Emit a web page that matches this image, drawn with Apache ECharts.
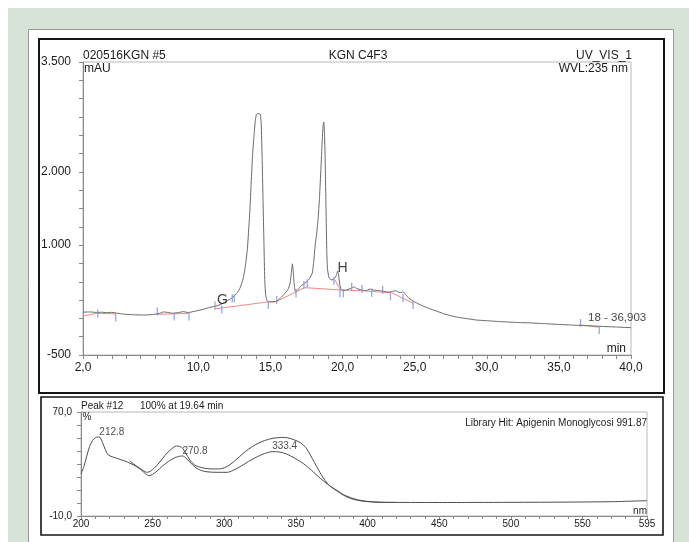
<!DOCTYPE html>
<html><head><meta charset="utf-8">
<script src="https://cdn.jsdelivr.net/npm/echarts@6/dist/echarts.min.js"></script>
<style>html,body{margin:0;padding:0;background:#fff}#c{width:689px;height:542px}</style>
</head><body><div id="c"></div>
<script>
// ---- Chromatogram (time min, mAU) ----
const chromatogram = [[2.0,85],[2.5,88],[2.95,80],[3.3,84],[3.6,78],[4.0,82],[4.4,70],[4.8,58],[5.5,50],[6.2,46],[6.8,52],[7.3,68],[7.6,88],[7.9,80],[8.2,70],[8.6,78],[8.95,92],[9.3,80],[9.7,95],[10.3,122],[10.8,150],[11.3,172],[11.7,205],[12.0,240],[12.3,275],[12.5,310],[12.7,350],[12.9,420],[13.1,540],[13.25,700],[13.4,950],[13.55,1400],[13.65,1800],[13.75,2200],[13.85,2480],[13.95,2700],[14.02,2785],[14.1,2795],[14.2,2795],[14.3,2785],[14.36,2650],[14.42,2200],[14.48,1650],[14.55,1000],[14.6,550],[14.66,330],[14.75,245],[14.9,228],[15.1,225],[15.4,232],[15.7,280],[15.95,330],[16.2,390],[16.35,470],[16.45,620],[16.52,745],[16.58,640],[16.64,480],[16.72,370],[16.85,380],[17.05,430],[17.3,470],[17.5,500],[17.7,540],[17.9,620],[18.0,780],[18.1,1000],[18.2,1150],[18.3,1350],[18.4,1650],[18.5,2050],[18.58,2400],[18.65,2640],[18.7,2680],[18.75,2500],[18.8,2100],[18.85,1500],[18.9,950],[18.95,680],[19.05,560],[19.2,525],[19.35,530],[19.5,560],[19.6,610],[19.66,645],[19.72,600],[19.8,470],[19.9,395],[20.05,378],[20.3,390],[20.6,412],[20.8,430],[21.0,405],[21.3,390],[21.6,378],[21.9,400],[22.2,385],[22.5,380],[22.8,372],[23.1,360],[23.4,365],[23.7,378],[23.95,352],[24.2,360],[24.4,320],[24.6,274],[25.0,225],[25.5,175],[26.0,135],[26.5,100],[27.0,65],[27.5,36],[28.0,15],[28.5,0],[29.25,-22],[30.0,-32],[31.0,-45],[32.0,-55],[33.0,-62],[34.0,-72],[35.0,-83],[36.0,-92],[37.0,-100],[38.0,-110],[39.0,-118],[40.0,-127]];
const baselines = [[2.0,32],[2.95,69],[4.3,62],[4.35,null],[7.1,55],[8.35,62],[9.3,68],[9.4,null],[11.15,130],[14.85,225],[15.43,232],[16.8,364],[17.35,420],[19.9,387],[21.3,378],[23.4,350],[24.9,206],[25.0,null],[19.45,530],[19.85,395],[20.0,null],[36.4,-88],[37.75,-120]];
const peakMarks = [[3.02,67],[4.27,12],[7.15,94],[8.33,26],[9.35,26],[11.15,176],[11.62,121],[12.35,274],[12.49,274],[14.85,183],[15.43,251],[16.77,342],[17.32,456],[17.55,479],[19.4,513],[19.82,342],[20.05,342],[20.63,433],[21.35,400],[22.02,350],[22.78,387],[23.32,300],[24.19,278],[24.89,183],[36.5,-63],[37.8,-159]];
const peakNames = ['G','H','18 - 36,903'];
const peakNamePos = [[11.67,251],[20.0,688],[37.02,5]];
const timeTickLabels = [2,10,15,20,25,30,35,40];
const mauTickLabels = [3500,2000,1000,-500];

// ---- UV spectra (nm, %) ----
const spectrumPeak = [[200,22.5],[202,28],[204,36],[206,43.5],[208,48],[210,50.2],[212,50.8],[213.5,50.2],[215,46.5],[217,41],[219,37],[222,35.5],[226,34],[230,32.5],[235,30.2],[239,27.8],[242,25.5],[245,22.5],[247.5,21],[250,22],[253,24.5],[257,28.5],[261,32],[265,34.5],[268,35.8],[270.8,36.2],[273,34.8],[276,31.5],[280,27.2],[284,25],[288,24],[295,23.6],[302,23.6],[306,25],[311,27.9],[317,32],[323,35.6],[328,38],[333.4,39.5],[338,39.3],[343.5,37.7],[349,34.5],[355,30.5],[361,25],[367,19],[372,14.5],[376,11.3],[381,7.5],[386,4.4],[391,2.6],[396,1.5],[402,0.9],[410,0.5],[450,0.4],[500,0.5],[540,0.7],[570,1.0],[595,1.8]];
const spectrumLibrary = [[234,32.3],[238,29],[241,26.7],[244,24.5],[246,23.6],[248.5,24.5],[251,26.7],[255,31.5],[258.5,36.5],[262,40.5],[266.6,43.8],[269,43.5],[271,42],[273,38.5],[276,33.1],[279,29.5],[282,27.9],[286,26.8],[291,26.2],[296,26.2],[300,27],[304,29.5],[308,33.1],[313,38],[317,41.5],[322,45],[328,48],[334,49.8],[340,50.4],[344,50.2],[349,48.5],[353,46.5],[357,42.5],[360,37],[363,31],[366,25],[369,19.5],[372,15],[375,12],[379,9.5],[383,6.5],[388,4.2],[393,2.5],[398,1.5],[405,0.8],[412,0.5],[420,0.45]];
const spectrumPeakLabels = [[212.8,50.8],[270.8,36.2],[333.4,39.5]];
const nmTickLabels = [200,250,300,350,400,450,500,550,595];
const pctTickLabels = [70,-10];

const FF = '"Liberation Sans", Arial, sans-serif';
const TXT = '#1c1c1c';
function txt(text, x, y, size, align) {
  return {type:'text', z:20, style:{text:text, x:x, y:y, fill:TXT, font: size+'px '+FF,
    align:align, textAlign:align, verticalAlign:'middle', textVerticalAlign:'middle'}};
}

const chart = echarts.init(document.getElementById('c'), null, {renderer:'canvas'});
chart.setOption({
  animation:false,
  backgroundColor:'#ffffff',
  graphic:[
    {type:'rect', z:-10, shape:{x:8,y:8,width:700,height:560}, style:{fill:'#d6e4d8'}},
    {type:'rect', z:-9, shape:{x:28.5,y:29.5,width:645,height:530}, style:{fill:'#ffffff', stroke:'#9a9a9a', lineWidth:1}},
    {type:'rect', z:-8, shape:{x:39,y:39,width:625,height:354}, style:{fill:'none', stroke:'#161616', lineWidth:2}},
    {type:'rect', z:-8, shape:{x:41,y:397,width:622,height:138}, style:{fill:'none', stroke:'#161616', lineWidth:1.6}},
    txt('020516KGN #5', 83, 56, 12, 'left'),
    txt('KGN C4F3', 358, 56, 12, 'center'),
    txt('UV_VIS_1', 632, 56, 12, 'right'),
    txt('mAU', 84, 68.5, 12, 'left'),
    txt('WVL:235 nm', 628, 68.5, 12, 'right'),
    txt('min', 626, 349, 12, 'right'),
    txt('Peak #12', 81, 406, 10, 'left'),
    txt('100% at 19.64 min', 140, 406, 10, 'left'),
    txt('%', 82.5, 417, 10, 'left'),
    txt('Library Hit: Apigenin Monoglycosi 991.87', 647, 423, 10, 'right'),
    txt('nm', 647, 511, 10, 'right')
  ],
  grid:[
    {left:83, top:62, width:548, height:293, show:true, borderColor:'#b8b8b8', borderWidth:1},
    {left:81, top:412, width:566, height:104, show:true, borderColor:'#b8b8b8', borderWidth:1}
  ],
  xAxis:[
    {type:'value', gridIndex:0, min:2, max:40, interval:1,
     axisLine:{show:true, onZero:false, lineStyle:{color:'#8a8a8a', width:1}},
     axisTick:{show:true, length:4, lineStyle:{color:'#8a8a8a'}},
     splitLine:{show:false},
     axisLabel:{margin:7, fontSize:12, fontFamily:FF, color:TXT, showMinLabel:true, showMaxLabel:true,
       formatter:v => timeTickLabels.includes(v) ? v.toFixed(1).replace('.', ',') : ''}},
    {type:'value', gridIndex:1, min:200, max:595, interval:10,
     axisLine:{show:true, onZero:false, lineStyle:{color:'#8a8a8a', width:1}},
     axisTick:{show:true, length:3, lineStyle:{color:'#8a8a8a'}},
     splitLine:{show:false},
     axisLabel:{margin:3, fontSize:10, fontFamily:FF, color:TXT, showMinLabel:true, showMaxLabel:true,
       formatter:v => nmTickLabels.includes(v) ? String(v) : ''}}
  ],
  yAxis:[
    {type:'value', gridIndex:0, min:-500, max:3500, interval:250,
     axisLine:{show:true, onZero:false, lineStyle:{color:'#8a8a8a', width:1}},
     axisTick:{show:true, length:4, lineStyle:{color:'#8a8a8a'}},
     splitLine:{show:false},
     axisLabel:{margin:12, fontSize:12, fontFamily:FF, color:TXT, showMinLabel:true, showMaxLabel:true,
       formatter:v => mauTickLabels.includes(v) ? (Math.abs(v) >= 1000 ? (v/1000).toFixed(3) : String(v)) : ''}},
    {type:'value', gridIndex:1, min:-10, max:70, interval:10,
     axisLine:{show:true, onZero:false, lineStyle:{color:'#8a8a8a', width:1}},
     axisTick:{show:true, length:4, lineStyle:{color:'#8a8a8a'}},
     splitLine:{show:false},
     axisLabel:{margin:9, fontSize:10, fontFamily:FF, color:TXT, showMinLabel:true, showMaxLabel:true,
       formatter:v => pctTickLabels.includes(v) ? v.toFixed(1).replace('.', ',') : ''}}
  ],
  series:[
    {type:'line', xAxisIndex:0, yAxisIndex:0, data:baselines, showSymbol:false, connectNulls:false,
     lineStyle:{color:'#f08c84', width:1}, z:2, silent:true},
    {type:'line', xAxisIndex:0, yAxisIndex:0, data:chromatogram, showSymbol:false, smooth:0.15,
     lineStyle:{color:'#6a6a6a', width:1}, z:3, silent:true},
    {type:'scatter', xAxisIndex:0, yAxisIndex:0, data:peakMarks, symbol:'rect', symbolSize:[1.3,8],
     itemStyle:{color:'#7f90dc'}, z:4, silent:true},
    {type:'scatter', xAxisIndex:0, yAxisIndex:0, symbolSize:0, z:5, silent:true,
     data: peakNames.map((n,i) => ({value:peakNamePos[i], name:n,
        label:{show:true, position:[0,0], formatter:n, color:'#111',
          fontSize: i < 2 ? 14 : 11.5, fontFamily:FF,
          align: i < 2 ? 'center' : 'left', verticalAlign:'middle'}}))},
    {type:'line', xAxisIndex:1, yAxisIndex:1, data:spectrumLibrary, showSymbol:false, smooth:0.3,
     lineStyle:{color:'#4e4e4e', width:1}, z:3, silent:true},
    {type:'line', xAxisIndex:1, yAxisIndex:1, data:spectrumPeak, showSymbol:false, smooth:0.3,
     lineStyle:{color:'#4e4e4e', width:1}, z:3, silent:true},
    {type:'scatter', xAxisIndex:1, yAxisIndex:1, symbolSize:0, z:5, silent:true,
     data: spectrumPeakLabels,
     label:{show:true, position:[0,0], align:'left', verticalAlign:'bottom', fontSize:10, fontFamily:FF, color:'#222',
       formatter: p => p.value[0].toFixed(1)}}
  ]
});
</script></body></html>
